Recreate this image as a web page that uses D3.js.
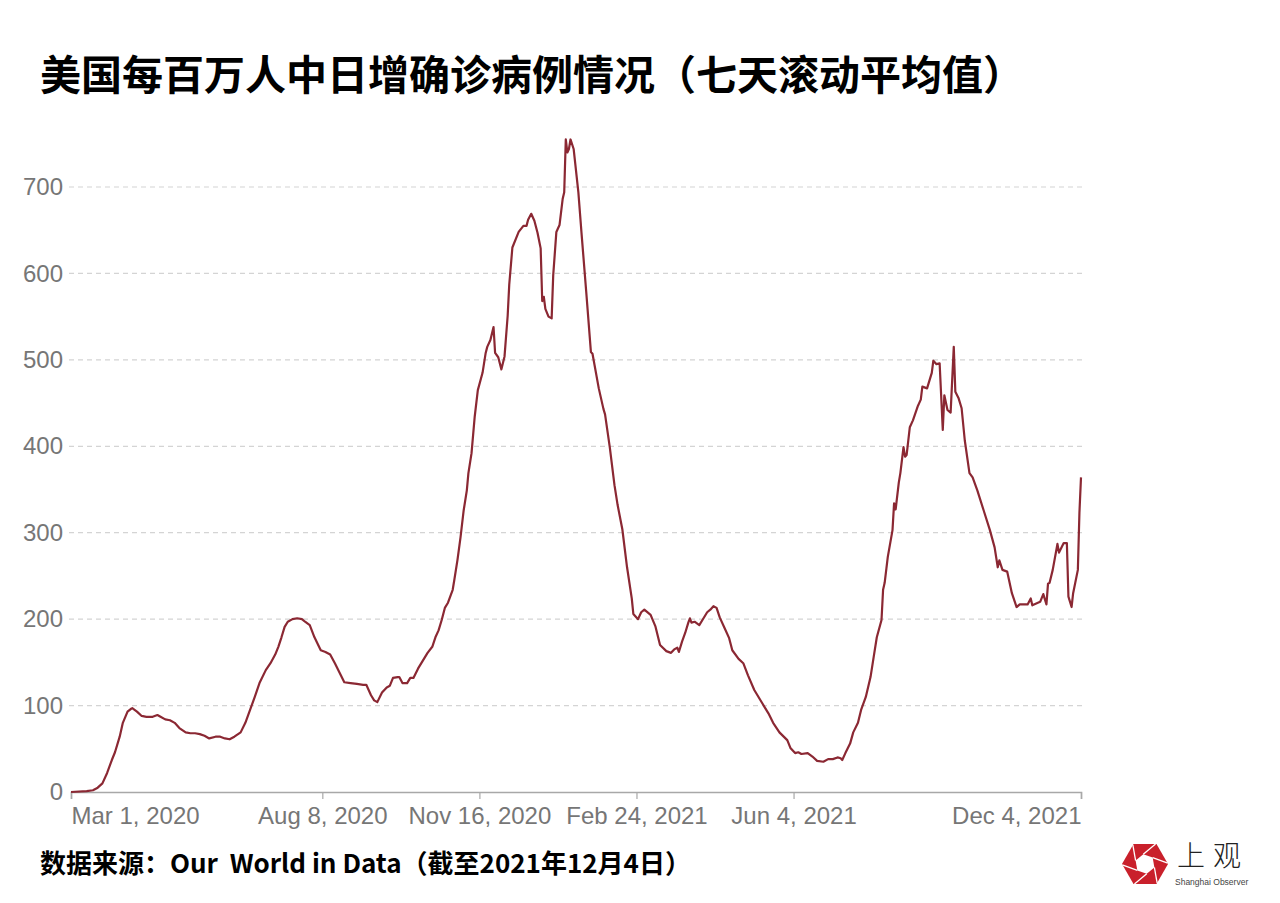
<!DOCTYPE html>
<html><head><meta charset="utf-8">
<script src="https://cdn.jsdelivr.net/npm/d3@7"></script>
<style>
body{margin:0;background:#fff;}
svg{display:block;}
</style>
</head><body>
<svg id="chart" width="1280" height="903"></svg>
<script>
// ---------------- DATA ----------------
const titleText = "美国每百万人中日增确诊病例情况（七天滚动平均值）";
const sourceText = "数据来源：Our  World in Data（截至2021年12月4日）";

const dates = [
"2020-03-01","2020-03-11","2020-03-15","2020-03-18","2020-03-21","2020-03-24","2020-03-27","2020-03-29",
"2020-04-01","2020-04-03","2020-04-06","2020-04-08","2020-04-09","2020-04-12","2020-04-15","2020-04-18",
"2020-04-22","2020-04-25","2020-04-27","2020-04-30","2020-05-03","2020-05-06","2020-05-09","2020-05-13",
"2020-05-16","2020-05-19","2020-05-22","2020-05-25","2020-05-28","2020-06-01","2020-06-04","2020-06-07",
"2020-06-10","2020-06-13","2020-06-17","2020-06-20","2020-06-23","2020-06-26","2020-06-29","2020-07-03",
"2020-07-06","2020-07-09","2020-07-11","2020-07-13","2020-07-15","2020-07-17","2020-07-20","2020-07-23",
"2020-07-26","2020-07-28","2020-07-31","2020-08-03","2020-08-07","2020-08-10","2020-08-13","2020-08-16",
"2020-08-19","2020-08-22","2020-08-26","2020-08-30","2020-09-03","2020-09-05","2020-09-08","2020-09-10",
"2020-09-12","2020-09-15","2020-09-18","2020-09-20","2020-09-22","2020-09-25","2020-09-26","2020-09-28",
"2020-10-01","2020-10-03","2020-10-05","2020-10-08","2020-10-11","2020-10-14","2020-10-17","2020-10-19",
"2020-10-21","2020-10-23","2020-10-25","2020-10-27","2020-10-30","2020-10-31","2020-11-02","2020-11-04",
"2020-11-06","2020-11-08","2020-11-09","2020-11-11","2020-11-13","2020-11-15","2020-11-18","2020-11-20",
"2020-11-21","2020-11-23","2020-11-25","2020-11-26","2020-11-28","2020-11-30","2020-12-02","2020-12-04",
"2020-12-05","2020-12-07","2020-12-11","2020-12-14","2020-12-16","2020-12-17","2020-12-19","2020-12-21",
"2020-12-23","2020-12-25","2020-12-26","2020-12-27","2020-12-28","2020-12-30","2021-01-01","2021-01-02",
"2021-01-04","2021-01-06","2021-01-08","2021-01-09","2021-01-10","2021-01-11","2021-01-12","2021-01-13",
"2021-01-15","2021-01-18","2021-01-20","2021-01-23","2021-01-26","2021-01-27","2021-01-31","2021-02-03",
"2021-02-04","2021-02-07","2021-02-10","2021-02-12","2021-02-15","2021-02-18","2021-02-21","2021-02-22",
"2021-02-25","2021-02-27","2021-03-01","2021-03-05","2021-03-08","2021-03-11","2021-03-15","2021-03-18",
"2021-03-20","2021-03-22","2021-03-23","2021-03-25","2021-03-27","2021-03-29","2021-03-30","2021-03-31",
"2021-04-02","2021-04-05","2021-04-07","2021-04-10","2021-04-12","2021-04-14","2021-04-16","2021-04-18",
"2021-04-21","2021-04-24","2021-04-26","2021-04-30","2021-05-03","2021-05-06","2021-05-10","2021-05-15",
"2021-05-19","2021-05-22","2021-05-26","2021-05-31","2021-06-02","2021-06-05","2021-06-07","2021-06-09",
"2021-06-13","2021-06-16","2021-06-19","2021-06-23","2021-06-26","2021-06-29","2021-07-02","2021-07-04",
"2021-07-05","2021-07-07","2021-07-10","2021-07-12","2021-07-15","2021-07-17","2021-07-20","2021-07-23",
"2021-07-25","2021-07-27","2021-07-30","2021-07-31","2021-08-01","2021-08-03","2021-08-06","2021-08-07",
"2021-08-08","2021-08-10","2021-08-11","2021-08-13","2021-08-14","2021-08-15","2021-08-17","2021-08-19",
"2021-08-22","2021-08-24","2021-08-25","2021-08-28","2021-08-31","2021-09-01","2021-09-03","2021-09-05",
"2021-09-07","2021-09-08","2021-09-10","2021-09-12","2021-09-14","2021-09-15","2021-09-17","2021-09-19",
"2021-09-21","2021-09-24","2021-09-26","2021-09-29","2021-10-03","2021-10-07","2021-10-10","2021-10-12",
"2021-10-13","2021-10-15","2021-10-18","2021-10-21","2021-10-24","2021-10-26","2021-10-31","2021-11-02",
"2021-11-03","2021-11-08","2021-11-10","2021-11-12","2021-11-13","2021-11-14","2021-11-16","2021-11-19",
"2021-11-20","2021-11-23","2021-11-25","2021-11-26","2021-11-28","2021-11-29","2021-12-02","2021-12-03",
"2021-12-04"
];

const values = [
0,1,2,5,10,22,37,46,
64,80,93,96,97,93,88,87,
87,89,87,84,83,80,74,69,
68,68,67,65,62,64,64,62,
61,64,69,80,95,110,126,141,
149,159,168,179,191,197,200,201,
200,197,193,179,164,162,159,149,
138,127,126,125,124,124,112,106,
104,115,121,123,132,133,133,126,
126,132,132,143,152,161,168,179,
187,199,213,219,234,245,268,295,
326,349,369,392,434,465,485,508,
515,523,538,508,503,489,504,551,
587,630,648,655,655,662,669,661,
647,629,568,573,559,550,548,598,
648,656,686,694,755,740,744,755,
744,694,647,579,509,507,467,443,
437,399,355,332,304,260,224,206,
200,208,211,205,192,170,163,161,
165,167,162,174,184,196,201,196,
197,193,199,208,211,215,213,202,
190,178,164,154,149,135,118,103,
91,80,69,60,51,45,46,44,
45,41,36,35,38,38,40,39,
37,45,56,69,80,95,110,133,
156,179,199,234,242,272,303,334,
327,358,369,399,388,390,422,430,
446,454,469,467,485,499,495,496,
419,459,442,439,515,463,456,444,
407,369,364,349,326,303,283,260,
268,257,255,230,214,217,217,224,
216,220,229,217,241,242,257,287,
277,288,288,226,214,230,257,323,
364
];

const yTickValues = [0,100,200,300,400,500,600,700];
const xTickDates = ["2020-03-01","2020-08-08","2020-11-16","2021-02-24","2021-06-04","2021-12-04"];
const xTickLabels = ["Mar 1, 2020","Aug 8, 2020","Nov 16, 2020","Feb 24, 2021","Jun 4, 2021","Dec 4, 2021"];

// ---------------- CHART ----------------
(function(){
const parse = d3.utcParse("%Y-%m-%d");
const data = dates.map((d,i)=>({date:parse(d), v:values[i]}));

const svg = d3.select("#chart");
const mLeft = 71, mRight = 1081, mTop = 187, mBottom = 792;

const x = d3.scaleUtc()
  .domain([parse(xTickDates[0]), parse(xTickDates[xTickDates.length-1])])
  .range([mLeft, mRight]);
const y = d3.scaleLinear().domain([0,700]).range([mBottom, mTop]);

// Title
svg.append("text")
  .attr("x", 40).attr("y", 90)
  .attr("font-family", "'Noto Sans CJK SC', sans-serif")
  .attr("font-weight", 700)
  .attr("font-size", 41)
  .attr("fill", "#000")
  .text(titleText);

// Gridlines
svg.append("g").selectAll("line")
  .data(yTickValues.filter(v=>v>0))
  .join("line")
  .attr("x1", mLeft-2).attr("x2", mRight+2)
  .attr("y1", d=>y(d)).attr("y2", d=>y(d))
  .attr("stroke", "#d4d4d4")
  .attr("stroke-width", 1.2)
  .attr("stroke-dasharray", "5,4");

// Y axis
const yAxis = svg.append("g")
  .attr("transform", `translate(${mLeft},0)`)
  .call(d3.axisLeft(y).tickValues(yTickValues).tickSize(0).tickPadding(8));
yAxis.select(".domain").remove();
yAxis.selectAll("text")
  .attr("font-family", "'Liberation Sans', Arial, sans-serif")
  .attr("font-size", 24)
  .attr("fill", "#767676");

// X axis
const xAxis = svg.append("g")
  .attr("transform", `translate(0,${mBottom})`)
  .call(d3.axisBottom(x)
    .tickValues(xTickDates.map(parse))
    .tickFormat((d,i)=>xTickLabels[i])
    .tickSize(7).tickSizeOuter(7).tickPadding(8));
xAxis.select(".domain").attr("stroke", "#a8a8a8").attr("stroke-width", 1.6);
xAxis.selectAll(".tick line").attr("stroke", "#a8a8a8").attr("stroke-width", 1.2);
xAxis.selectAll("text")
  .attr("font-family", "'Liberation Sans', Arial, sans-serif")
  .attr("font-size", 24)
  .attr("fill", "#767676")
  .attr("text-anchor", (d,i)=> i===0 ? "start" : (i===xTickDates.length-1 ? "end" : "middle"));

// Line
const line = d3.line().x(d=>x(d.date)).y(d=>y(d.v)).curve(d3.curveLinear);
svg.append("path")
  .datum(data)
  .attr("d", line)
  .attr("fill", "none")
  .attr("stroke", "#8b2833")
  .attr("stroke-width", 2.2)
  .attr("stroke-linejoin", "round");

// Source
svg.append("text")
  .attr("x", 40).attr("y", 873)
  .attr("font-family", "'Noto Sans CJK SC', sans-serif")
  .attr("font-weight", 700)
  .attr("font-size", 26)
  .attr("fill", "#000")
  .style("white-space", "pre")
  .text(sourceText);

// Logo
const logo = svg.append("g").attr("transform", "translate(1145,864)");
const R = 23;
const outer = d3.range(6).map(i=>{const a=Math.PI/3*i; return [R*Math.cos(a), R*Math.sin(a)];});
logo.append("path").attr("d", "M"+outer.join("L")+"Z").attr("fill", "#c9202b");
const r = 10;
const inner = d3.range(6).map(i=>{const a=Math.PI/3*i+0.35; return [r*Math.cos(a), r*Math.sin(a)];});
logo.append("path").attr("d", "M"+inner.join("L")+"Z").attr("fill", "#fff");
inner.forEach((p,i)=>{
  const q = inner[(i+5)%6];
  const dx = p[0]-q[0], dy = p[1]-q[1], L = Math.hypot(dx,dy);
  logo.append("line")
    .attr("x1", p[0]).attr("y1", p[1])
    .attr("x2", p[0]+dx/L*16).attr("y2", p[1]+dy/L*16)
    .attr("stroke", "#fff").attr("stroke-width", 1.3);
});
svg.append("text")
  .attr("x", 1177).attr("y", 866)
  .attr("font-family", "'Noto Sans CJK SC', sans-serif")
  .attr("font-weight", 300)
  .attr("font-size", 28)
  .attr("fill", "#222")
  .attr("letter-spacing", 8)
  .text("上观");
svg.append("text")
  .attr("x", 1175).attr("y", 885)
  .attr("font-family", "'Liberation Sans', Arial, sans-serif")
  .attr("font-size", 8.5)
  .attr("fill", "#444")
  .text("Shanghai Observer");
})();
</script>
</body></html>
